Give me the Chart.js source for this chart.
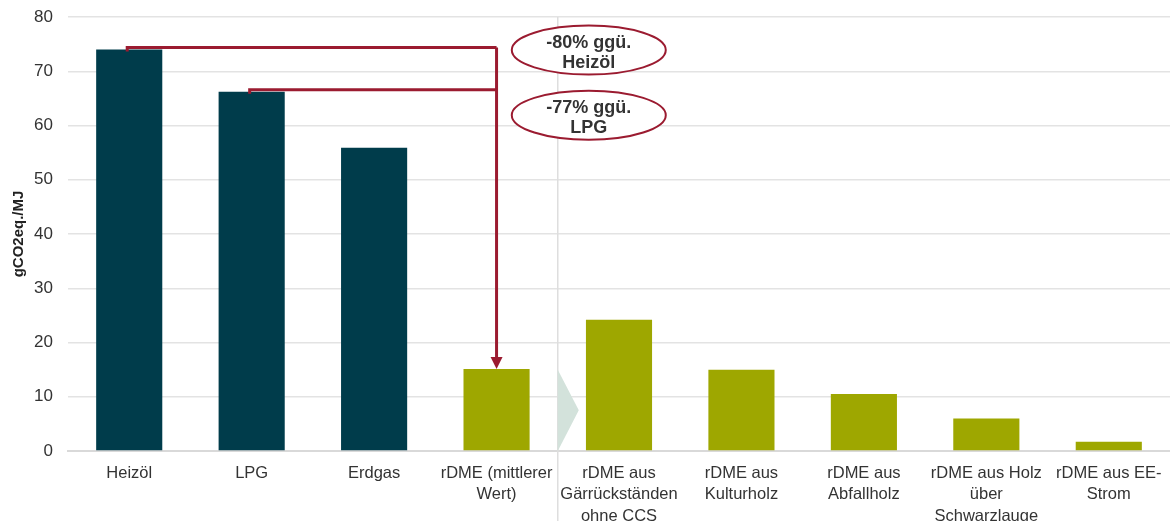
<!DOCTYPE html>
<html>
<head>
<meta charset="utf-8">
<script src="https://cdn.jsdelivr.net/npm/chart.js@4.4.1/dist/chart.umd.min.js"></script>
<style>
  html, body { margin: 0; padding: 0; background: #fff; }
  #wrap { width: 1170px; height: 521px; }
</style>
</head>
<body>
<div id="wrap"><canvas id="chart"></canvas></div>
<script>
// data
const categories = [
  'Heizöl', 'LPG', 'Erdgas', ['rDME (mittlerer', 'Wert)'],
  ['rDME aus', 'Gärrückständen', 'ohne CCS'], ['rDME aus', 'Kulturholz'],
  ['rDME aus', 'Abfallholz'], ['rDME aus Holz', 'über', 'Schwarzlauge'],
  ['rDME aus EE-', 'Strom']
];
const emissions = [74, 66.2, 55.9, 15.1, 24.2, 15.0, 10.5, 6.0, 1.7];
const fossilCount = 3;
const callouts = [
  { from: 0, to: 3, text: ['-80% ggü.', 'Heizöl'] },
  { from: 1, to: 3, text: ['-77% ggü.', 'LPG'] }
];
// where the ellipses sit, in axis units
const calloutLevels = [73.9, 61.9];

const dark = '#003c4b';
const olive = '#9ea700';
const red = '#9b1b30';
const font = '"Liberation Sans", Arial, sans-serif';

// divider, chevron and reduction callouts
const annotations = {
  id: 'annotations',
  afterDatasetsDraw(chart) {
    const { ctx, scales: { x, y }, chartArea } = chart;
    const step = x.getPixelForValue(1) - x.getPixelForValue(0);
    const divX = x.getPixelForValue(3) + step / 2;
    ctx.save();

    // vertical divider
    ctx.strokeStyle = '#dedede';
    ctx.lineWidth = 1.5;
    ctx.beginPath();
    ctx.moveTo(divX, chartArea.top);
    ctx.lineTo(divX, chart.height);
    ctx.stroke();

    // chevron
    ctx.fillStyle = '#d3e2db';
    ctx.beginPath();
    ctx.moveTo(divX, y.getPixelForValue(15));
    ctx.lineTo(divX + 21, y.getPixelForValue(7.5));
    ctx.lineTo(divX, y.getPixelForValue(0));
    ctx.closePath();
    ctx.fill();

    // lines to the rDME bar
    const targetX = x.getPixelForValue(3);
    ctx.strokeStyle = red;
    ctx.lineWidth = 3;
    callouts.forEach((c) => {
      const yy = y.getPixelForValue(emissions[c.from]) - 2;
      ctx.beginPath();
      ctx.moveTo(x.getPixelForValue(c.from) - 2, yy + 4);
      ctx.lineTo(x.getPixelForValue(c.from) - 2, yy);
      ctx.lineTo(targetX, yy);
      ctx.stroke();
    });
    const topY = y.getPixelForValue(emissions[callouts[0].from]) - 2;
    const arrowY = y.getPixelForValue(emissions[3]);
    ctx.beginPath();
    ctx.moveTo(targetX, topY);
    ctx.lineTo(targetX, arrowY - 10);
    ctx.stroke();
    ctx.fillStyle = red;
    ctx.beginPath();
    ctx.moveTo(targetX - 6, arrowY - 12);
    ctx.lineTo(targetX + 6, arrowY - 12);
    ctx.lineTo(targetX, arrowY);
    ctx.closePath();
    ctx.fill();

    // ellipses with text
    callouts.forEach((c, i) => {
      const cx = divX + 31;
      const cy = y.getPixelForValue(calloutLevels[i]);
      ctx.fillStyle = '#fff';
      ctx.strokeStyle = red;
      ctx.lineWidth = 2;
      ctx.beginPath();
      ctx.ellipse(cx, cy, 77, 24.5, 0, 0, Math.PI * 2);
      ctx.fill();
      ctx.stroke();
      ctx.fillStyle = '#333';
      ctx.font = 'bold 18px ' + font;
      ctx.textAlign = 'center';
      ctx.textBaseline = 'middle';
      ctx.fillText(c.text[0], cx, cy - 7);
      ctx.fillText(c.text[1], cx, cy + 13);
    });
    ctx.restore();
  }
};

new Chart(document.getElementById('chart'), {
  type: 'bar',
  data: {
    labels: categories,
    datasets: [{
      data: emissions,
      backgroundColor: emissions.map((v, i) => i < fossilCount ? dark : olive),
      barPercentage: 0.9,
      categoryPercentage: 0.6
    }]
  },
  options: {
    responsive: true,
    maintainAspectRatio: false,
    animation: false,
    layout: { padding: 0 },
    plugins: {
      legend: { display: false },
      tooltip: { enabled: false }
    },
    scales: {
      x: {
        afterFit: (s) => { s.height = 70; },
        grid: { display: false },
        border: { color: '#d9d9d9', width: 2 },
        ticks: {
          color: '#333',
          font: { family: font, size: 16.5, lineHeight: 1.33 },
          maxRotation: 0,
          autoSkip: false,
          padding: 3
        }
      },
      y: {
        min: 0,
        max: 80,
        afterFit: (s) => { s.width = 68; s.paddingTop = 17; },
        grid: { color: '#e3e3e3', lineWidth: 1.5, drawTicks: false },
        border: { display: false },
        ticks: {
          stepSize: 10,
          color: '#333',
          padding: 15,
          font: { family: font, size: 17 }
        },
        title: {
          display: true,
          text: 'gCO2eq./MJ',
          color: '#222',
          padding: { top: 10, bottom: 0 },
          font: { family: font, size: 15, weight: 'bold' }
        }
      }
    }
  },
  plugins: [annotations]
});
</script>
</body>
</html>
